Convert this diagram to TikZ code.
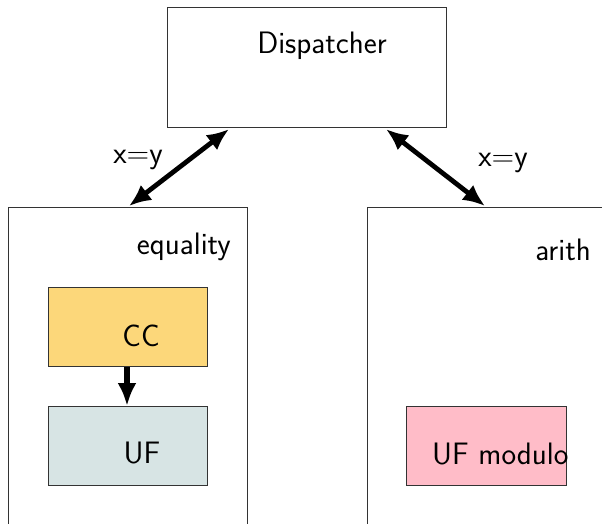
\documentclass[tikz,border=0pt]{standalone}
\usetikzlibrary{arrows.meta,calc}
\definecolor{ccfill}{HTML}{FCD77A}
\definecolor{uffill}{HTML}{D7E4E4}
\definecolor{pinkfill}{HTML}{FFBCC8}
\definecolor{edge}{HTML}{333333}
\tikzset{
  box/.style={draw=edge, line width=1.1pt, rectangle, inner sep=0pt, anchor=north west},
  txt/.style={font=\sffamily\fontsize{31}{37}\selectfont, inner sep=0pt, text=black},
  dbl/.style={line width=4.8pt, {Latex[length=22pt,width=19pt]}-{Latex[length=22pt,width=19pt]}},
  sgl/.style={line width=5.5pt, -{Latex[length=23pt,width=19pt]}}
}
\begin{document}
\begin{tikzpicture}[x=1pt,y=-1pt]
\useasboundingbox (0,0) rectangle (602,523);
\clip (0,0) rectangle (602,523);
% boxes
\node[box, minimum width=279pt, minimum height=120pt] (disp) at (167,7) {};
\node[box, minimum width=239pt, minimum height=330pt] (eq) at (8,207) {};
\node[box, minimum width=250pt, minimum height=330pt] (ar) at (367,207) {};
\node[box, fill=ccfill, minimum width=159pt, minimum height=79pt] (cc) at (48,287) {};
\node[box, fill=uffill, minimum width=159pt, minimum height=79pt] (uf) at (48,406) {};
\node[box, fill=pinkfill, minimum width=160pt, minimum height=79pt] (ufm) at (406,406) {};
% texts
\node[txt] (tdisp) at (322,46) {Dispatcher};
\node[txt, anchor=east] (teq) at (231,247) {equality};
\node[txt, anchor=east] (tar) at (591,250) {arith};
\node[txt] (tcc) at (141,336) {CC};
\node[txt] (tuf) at (142,453) {UF};
\node[txt, anchor=west] (tufm) at (432,454) {UF modulo};
\node[txt] (l1) at (138,160) {x=y};
\node[txt] (l2) at (503,163) {x=y};
% connectors
\draw[dbl] ($(disp.south west)+(62,1)$) -- ($(eq.north west)+(121,-1)$);
\draw[dbl] ($(disp.south west)+(219,1)$) -- ($(ar.north west)+(118,-1)$);
\draw[sgl] (cc.south -| 127,0) -- (uf.north -| 127,0);
\end{tikzpicture}
\end{document}
